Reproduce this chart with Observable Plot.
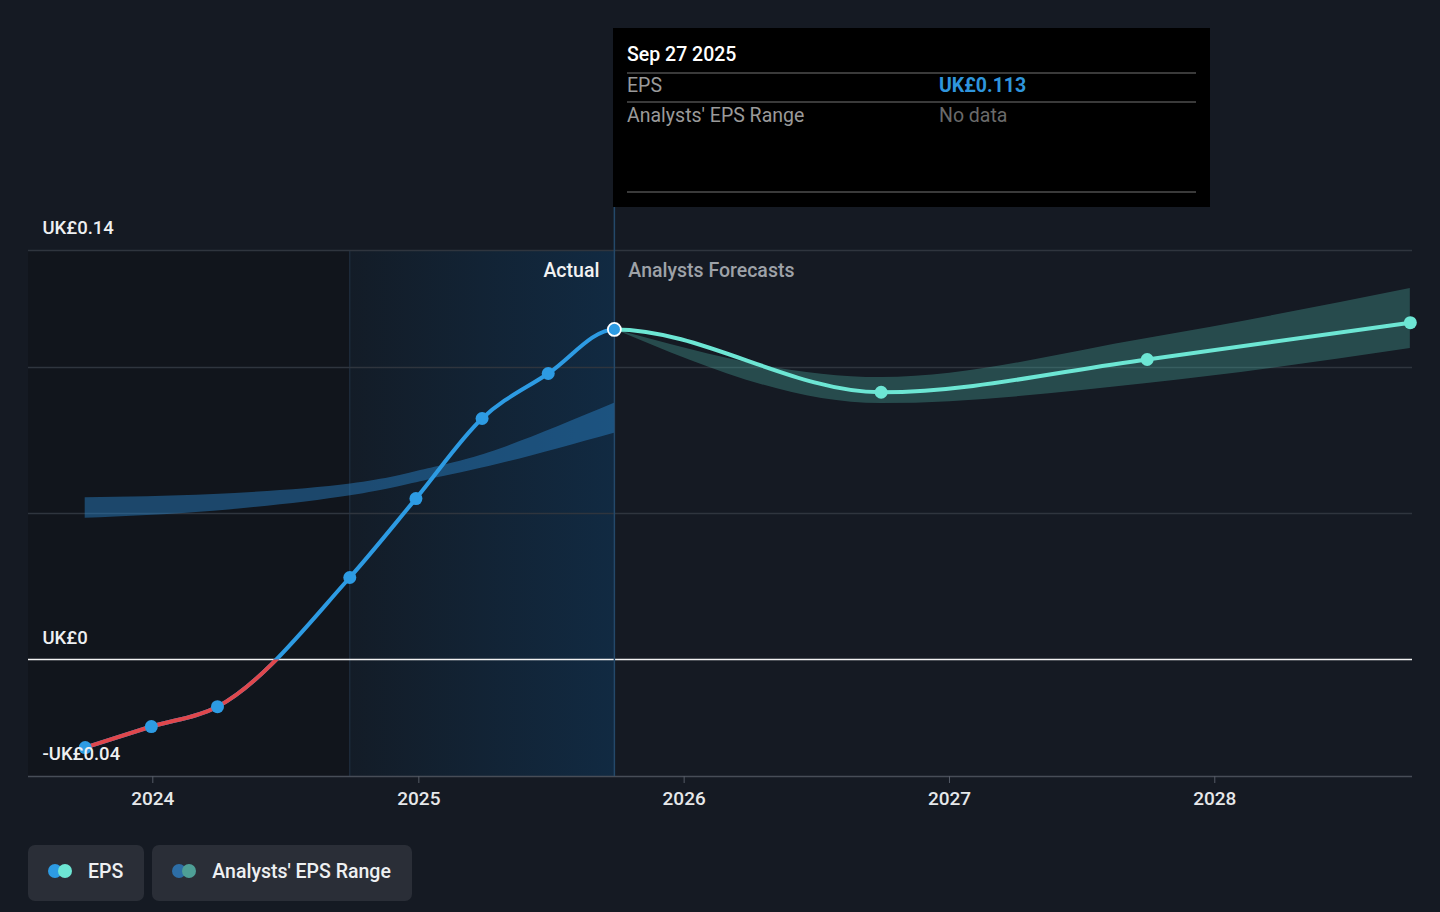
<!DOCTYPE html>
<html>
<head>
<meta charset="utf-8">
<script src="https://cdn.jsdelivr.net/npm/d3@7"></script>
<script src="https://cdn.jsdelivr.net/npm/@observablehq/plot@0.6"></script>
<style>
  html, body { margin: 0; padding: 0; background: #151a23; width: 1440px; height: 912px; overflow: hidden; font-family: Roboto, "Noto Sans", sans-serif; }
  #wrap { position: relative; width: 1440px; height: 912px; }
  #chart { position: absolute; left: 0; top: 0; }
  #tip { position: absolute; left: 613px; top: 28px; width: 597px; height: 179px; background: #000; color: #fff; }
  #tip .row { position: absolute; left: 14px; right: 14px; font-size: 19.5px; }
  #tip .hr { position: absolute; left: 14px; right: 14px; height: 0; border-top: 2px solid #3a3a3a; }
  #legend { position: absolute; left: 28px; top: 845px; display: flex; gap: 8px; }
  .btn { height: 56px; background: #2a2e37; border-radius: 7px; display: flex; align-items: center; padding: 0 21px 4px 20px; color: #eef0f2; font-size: 19.5px; font-weight: 500; box-sizing: border-box; }
  .dots { position: relative; width: 28px; height: 16px; margin-right: 12px; }
  .dots span { position: absolute; top: 1px; width: 14px; height: 14px; border-radius: 50%; }
</style>
</head>
<body>
<div id="wrap">
  <div id="chart"></div>
  <div id="tip"></div>
  <div id="legend"></div>
</div>
<script>
// ---- data ----
const actualDates = ["2023-09-30","2023-12-30","2024-03-30","2024-09-28","2024-12-28","2025-03-29","2025-06-28","2025-09-27"];
const actualEps   = [-0.0301, -0.0229, -0.0161, 0.0281, 0.0551, 0.0825, 0.0979, 0.113];

const pastRangeDates = ["2023-09-30","2024-03-25","2024-09-29","2025-01-14","2025-04-23","2025-09-27"];
const pastRangeLow   = [0.0484, 0.0508, 0.0561, 0.0615, 0.0670, 0.0775];
const pastRangeHigh  = [0.0554, 0.0565, 0.0601, 0.0653, 0.0721, 0.0877];

const forecastDates = ["2025-09-27","2026-09-29","2027-09-30","2028-09-26"];
const forecastEps   = [0.113, 0.0915, 0.1027, 0.1153];
const forecastLow   = [0.113, 0.0876, 0.0945, 0.1065];
const forecastHigh  = [0.113, 0.0965, 0.1099, 0.1270];

const yTickValues = [-0.04, 0, 0.14];
const yGridValues = [0.05, 0.10, 0.14];
const xTickYears  = ["2024-01-01","2025-01-01","2026-01-01","2027-01-01","2028-01-01"];
const xDomain     = ["2023-07-14","2028-09-29"];
const yDomain     = [-0.04, 0.14];
const tooltipDate = "Sep 27 2025";
const tooltipEps  = "UK£0.113";
const sectionLabels = ["Actual", "Analysts Forecasts"];
const legendItems = [
  {label: "EPS", colors: ["#2d9be3", "#6de6d4"]},
  {label: "Analysts' EPS Range", colors: ["#2d6ea6", "#4e9f96"]}
];

// ---- build ----
const P = d => new Date(d + "T00:00:00");
const actual = actualDates.map((d, i) => ({date: P(d), eps: actualEps[i]}));
const pastRange = pastRangeDates.map((d, i) => ({date: P(d), lo: pastRangeLow[i], hi: pastRangeHigh[i]}));
const forecast = forecastDates.map((d, i) => ({date: P(d), eps: forecastEps[i], lo: forecastLow[i], hi: forecastHigh[i]}));
const combined = actual.concat(forecast.slice(1).map(d => ({date: d.date, eps: d.eps})));
const lastActual = actual[actual.length - 1];
const splitDate = actual[3].date; // start of highlighted year
const fmt = v => v === 0 ? "UK£0" : (v < 0 ? "-UK£" + Math.abs(v) : "UK£" + v);

const ns = "http://www.w3.org/2000/svg";
function clipRect(id, x, y, w, h) {
  const cp = document.createElementNS(ns, "clipPath");
  cp.setAttribute("id", id);
  const r = document.createElementNS(ns, "rect");
  r.setAttribute("x", x); r.setAttribute("y", y); r.setAttribute("width", Math.max(0, w)); r.setAttribute("height", Math.max(0, h));
  cp.appendChild(r);
  return cp;
}
function defsMark(index, scales, values, dims) {
  const defs = document.createElementNS(ns, "defs");
  const lg = document.createElementNS(ns, "linearGradient");
  lg.setAttribute("id", "hl"); lg.setAttribute("x1", "0"); lg.setAttribute("x2", "1"); lg.setAttribute("y1", "0"); lg.setAttribute("y2", "0");
  [["0", "#131c27"], ["1", "#112a42"]].forEach(([o, c]) => {
    const s = document.createElementNS(ns, "stop"); s.setAttribute("offset", o); s.setAttribute("stop-color", c); lg.appendChild(s);
  });
  defs.appendChild(lg);
  const y0 = scales.y(0);
  const xn = scales.x(lastActual.date);
  defs.appendChild(clipRect("neg", 0, y0, xn, dims.height - y0));
  defs.appendChild(clipRect("past", 0, 0, xn, dims.height));
  defs.appendChild(clipRect("future", xn, 0, dims.width - xn, dims.height));
  return defs;
}
const clipTo = id => (index, scales, values, dims, context, next) => {
  const g = next(index, scales, values, dims, context);
  g.setAttribute("clip-path", `url(#${id})`);
  return g;
};

const xStart = P(xDomain[0]);
const chart = Plot.plot({
  width: 1440,
  height: 830,
  marginLeft: 28,
  marginRight: 28,
  marginTop: 250,
  marginBottom: 54,
  x: {type: "time", domain: xDomain.map(P), axis: null},
  y: {domain: yDomain, axis: null},
  style: {background: "transparent", fontFamily: "Roboto, sans-serif", fontSize: "17px", color: "#e6e8ea"},
  marks: [
    defsMark,
    // past (dark) region and highlighted last-year region
    Plot.rect([{x1: xStart, x2: splitDate}], {x1: "x1", x2: "x2", y1: yDomain[0], y2: yDomain[1], fill: "#11151c"}),
    Plot.rect([{x1: splitDate, x2: lastActual.date}], {x1: "x1", x2: "x2", y1: yDomain[0], y2: yDomain[1], fill: "url(#hl)"}),
    Plot.ruleX([splitDate], {y1: yDomain[0], y2: yDomain[1], stroke: "#223244", strokeWidth: 1}),
    // grid
    Plot.ruleY(yGridValues, {stroke: "#2f353e", strokeWidth: 1.5}),
    Plot.ruleY([0], {stroke: "#f2f2f2", strokeWidth: 1.5}),
    Plot.ruleY([yDomain[0]], {stroke: "#474d57", strokeWidth: 1.5}),
    // vertical "now" line
    Plot.ruleX([lastActual.date], {y1: yDomain[0], y2: yDomain[1] + 0.0147, stroke: "#24496a", strokeWidth: 1.5}),
    // ranges
    Plot.areaY(pastRange, {x: "date", y1: "lo", y2: "hi", fill: "#2b86cc", fillOpacity: 0.45, curve: "natural"}),
    Plot.areaY(forecast, {x: "date", y1: "lo", y2: "hi", fill: "#4fb3a8", fillOpacity: 0.32, curve: "monotone-x"}),
    // lines (one continuous curve, coloured by section)
    Plot.line(combined, {x: "date", y: "eps", stroke: "#2d9be3", strokeWidth: 4, curve: "monotone-x", render: clipTo("past")}),
    Plot.line(combined, {x: "date", y: "eps", stroke: "#e0474c", strokeWidth: 4, curve: "monotone-x", render: clipTo("neg")}),
    Plot.line(combined, {x: "date", y: "eps", stroke: "#6de6d4", strokeWidth: 4, curve: "monotone-x", render: clipTo("future")}),
    // dots
    Plot.dot(actual.slice(0, -1), {x: "date", y: "eps", r: 6.5, fill: "#2d9be3"}),
    Plot.dot(forecast.slice(1), {x: "date", y: "eps", r: 6.5, fill: "#6de6d4"}),
    Plot.dot([lastActual], {x: "date", y: "eps", r: 6.5, fill: "#2d9be3", stroke: "#ffffff", strokeWidth: 1.8}),
    // section labels
    Plot.text([lastActual], {x: "date", frameAnchor: "top", text: () => sectionLabels[0], textAnchor: "end", dx: -15, dy: 13, fill: "#f2f2f2", fontSize: 19.5, fontWeight: 500}),
    Plot.text([lastActual], {x: "date", frameAnchor: "top", text: () => sectionLabels[1], textAnchor: "start", dx: 14, dy: 13, fill: "#9ea2a8", fontSize: 19.5, fontWeight: 500}),
    // y labels
    Plot.text(yTickValues, {y: d => d, frameAnchor: "left", text: fmt, textAnchor: "start", dx: 14, dy: -22, fill: "#eef0f2", fontSize: 18.5, fontWeight: 500}),
    // x axis
    Plot.axisX(xTickYears.map(P), {tickSize: 7, tickPadding: 8, tickFormat: d3.timeFormat("%Y"), stroke: "#555b66", fill: "#e6e8ea", fontSize: 19, fontWeight: 500, label: null})
  ]
});
document.getElementById("chart").appendChild(chart);

// tooltip
const tip = document.getElementById("tip");
tip.innerHTML = `
  <div class="row" style="top:15px;font-weight:500;color:#fff;">${tooltipDate}</div>
  <div class="hr" style="top:44px"></div>
  <div class="row" style="top:46px;color:#9a9a9a;">EPS<span style="position:absolute;left:312px;color:#2f95dc;font-weight:700;">${tooltipEps}</span></div>
  <div class="hr" style="top:73px"></div>
  <div class="row" style="top:76px;color:#9a9a9a;">Analysts' EPS Range<span style="position:absolute;left:312px;color:#6a6a6a;">No data</span></div>
  <div class="hr" style="top:163px"></div>`;

// legend
const legend = document.getElementById("legend");
legendItems.forEach(it => {
  const b = document.createElement("div");
  b.className = "btn";
  b.innerHTML = `<div class="dots"><span style="left:0;background:${it.colors[0]}"></span><span style="left:10px;background:${it.colors[1]}"></span></div>${it.label}`;
  legend.appendChild(b);
});
</script>
</body>
</html>
